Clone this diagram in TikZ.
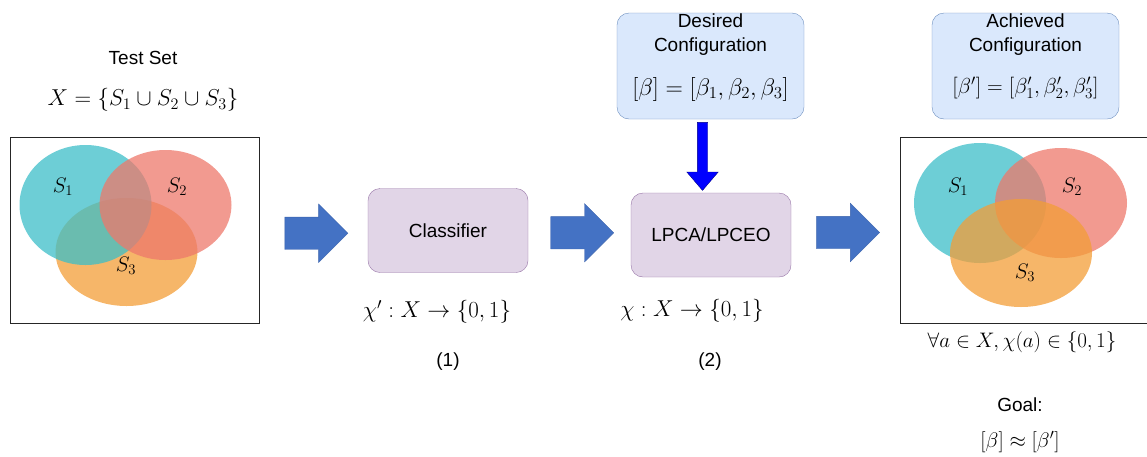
\RequirePackage{fix-cm}
\documentclass[tikz,border=0pt]{standalone}
\usepackage{fontspec}
\usetikzlibrary{positioning,calc,shapes.arrows}

\newfontfamily\arialfont{Liberation Sans}

\definecolor{cfgfill}{HTML}{DAE8FC}
\definecolor{cfgline}{HTML}{6C8EBF}
\definecolor{procfill}{HTML}{E1D5E7}
\definecolor{procline}{HTML}{9673A6}
\definecolor{flowfill}{HTML}{4472C4}
\definecolor{flowline}{HTML}{3B63AD}
\definecolor{feedline}{HTML}{00008B}
\definecolor{setone}{RGB}{60,190,200}
\definecolor{settwo}{RGB}{237,120,107}
\definecolor{setthree}{RGB}{243,157,55}

\tikzset{
  lbl/.style={font=\arialfont\fontsize{19}{24}\selectfont, align=center, inner sep=0pt},
  mth/.style={font=\fontsize{21}{25}\selectfont, inner sep=0pt},
  bigmth/.style={font=\fontsize{23}{27}\selectfont, inner sep=0pt},
  cfgbox/.style={draw=cfgline, fill=cfgfill, rounded corners=12pt, minimum width=187pt, minimum height=106pt},
  procbox/.style={draw=procline, fill=procfill, rounded corners=12pt, minimum width=160pt, minimum height=84pt, lbl},
  flow/.style={single arrow, draw=flowline, fill=flowfill, inner sep=16pt, single arrow head extend=13pt,
    minimum height=63pt, anchor=tail, xshift=-29pt},
  setbox/.style={draw=black!85, line width=1pt, minimum width=249pt, minimum height=186pt},
  venn/.style={fill opacity=0.75},
}

\begin{document}
\begin{tikzpicture}[x=1pt,y=-1pt,node distance=50pt,on grid]
\useasboundingbox (0,0) rectangle (1147,456);

% test set
\node[setbox] (testbox) at (134.5,230) {};
\node[lbl] (testtitle) at (143,58) {Test Set};
\node[bigmth] (testdef) at (143,100) {$X=\{S_1\cup S_2\cup S_3\}$};
\begin{scope}[shift={(testbox.center)}]
  \fill[venn,setthree] (-8,22) ellipse [x radius=71, y radius=54];
  \fill[venn,setone] (-49,-25) ellipse [x radius=66, y radius=60];
  \fill[venn,settwo] (31,-25) ellipse [x radius=66, y radius=55];
  \node[mth] (tone) at (-71.5,-43) {$S_1$};
  \node[mth] (ttwo) at (42.5,-43) {$S_2$};
  \node[mth] (tthree) at (-8.5,36) {$S_3$};
\end{scope}

% classifier and lpca
\node[procbox] (classifier) at (448,230.5) {Classifier};
\node[bigmth] (chia) at (437,312) {$\chi':X\rightarrow\{0,1\}$};
\node[lbl] (stepa) at (448,362) {(1)};

\node[procbox] (lpca) at (711,235) {LPCA/LPCEO};
\node[bigmth] (chib) at (692,311) {$\chi:X\rightarrow\{0,1\}$};
\node[lbl] (stepb) at (710,362) {(2)};

\node[cfgbox] (desired) at (710.5,66) {};
\node[lbl] (desiredtitle) at (710.5,35) {Desired\\Configuration};
\node[bigmth, font=\fontsize{24}{28}\selectfont] (desiredbeta) at (710.5,89) {$[\beta]=[\beta_1,\beta_2,\beta_3]$};

% result
\node[setbox] (resultbox) at (1024.5,230) {};
\begin{scope}[shift={(resultbox.center)}]
  \fill[venn,setone] (-44.5,-27) ellipse [x radius=66, y radius=60];
  \fill[venn,settwo] (36.5,-27) ellipse [x radius=66, y radius=55];
  \fill[venn,setthree] (-3.5,23) ellipse [x radius=71, y radius=54];
  \node[mth] (rone) at (-66.5,-43) {$S_1$};
  \node[mth] (rtwo) at (47.5,-43) {$S_2$};
  \node[mth] (rthree) at (0.5,43) {$S_3$};
\end{scope}

\node[cfgbox] (achieved) at (1025.5,66) {};
\node[lbl] (achievedtitle) at (1025.5,35) {Achieved\\Configuration};
\node[mth, font=\fontsize{21.7}{26}\selectfont] (achievedbeta) at (1025.5,88) {$[\beta']=[\beta'_1,\beta'_2,\beta'_3]$};

\node[mth] (forall) at (1022,342) {$\forall a\in X,\chi(a)\in\{0,1\}$};
\node[lbl] (goal) at (1020,405) {Goal:};
\node[mth, below=37pt of goal] (approx) {$[\beta]\approx[\beta']$};

% arrows
\node[flow] (flowa) at ($(testbox.east)!0.5!(classifier.west)+(0,3)$) {};
\node[flow] (flowb) at ($(classifier.east)!0.5!(lpca.west)$) {};
\node[flow] (flowc) at ($(lpca.east)!0.5!(resultbox.west)$) {};
\node[single arrow, draw=feedline, fill=blue, inner sep=5pt, single arrow head extend=10.5pt,
  single arrow tip angle=81, minimum height=68pt, shape border rotate=270, anchor=tail]
  (feed) at ($(desired.south)+(-8,3)$) {};
\end{tikzpicture}
\end{document}
